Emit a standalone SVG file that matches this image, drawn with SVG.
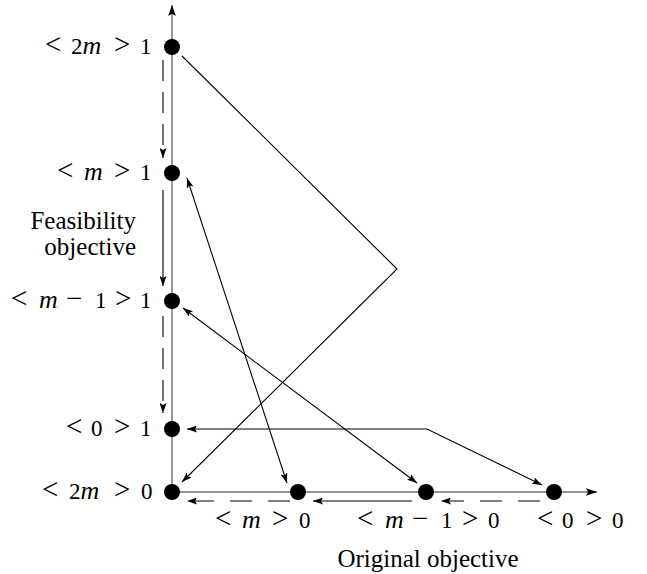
<svg xmlns="http://www.w3.org/2000/svg" width="647" height="574" viewBox="0 0 647 574">
<defs>
<marker id="ah" viewBox="0 0 10 7" refX="10" refY="3.5" markerWidth="10" markerHeight="7" markerUnits="userSpaceOnUse" orient="auto-start-reverse">
<path d="M0,0 L10,3.5 L0,7 L2,3.5 z" fill="#000"/>
</marker>
<marker id="ax" viewBox="0 0 10 7" refX="10" refY="3.5" markerWidth="11" markerHeight="8" markerUnits="userSpaceOnUse" orient="auto">
<path d="M0,0 L10,3.5 L0,7 L2,3.5 z" fill="#000"/>
</marker>
</defs>
<style>
.axis{stroke:#6e6e6e;stroke-width:1.4;fill:none}
.c{stroke:#000;stroke-width:1.1;fill:none}
.d{stroke:#000;stroke-width:1.1;fill:none;stroke-dasharray:21 11}
.dh{stroke:#000;stroke-width:1.1;fill:none;stroke-dasharray:22 16}
.n{fill:#000}
text{font-family:"Liberation Serif","Times New Roman",serif;fill:#000}
.math{font-size:23px}
.r{font-size:29px}
.txt{font-size:25px}
.m{font-style:italic;font-size:26px}
</style>
<g id="axes">
<line class="axis" x1="172" y1="492" x2="172" y2="5" marker-end="url(#ax)"/>
<line class="axis" x1="172" y1="492" x2="597" y2="492" marker-end="url(#ax)"/>
</g>
<g id="connectors">
<line class="d" x1="163" y1="60" x2="163" y2="158" marker-end="url(#ah)"/>
<line class="c" x1="163" y1="190" x2="163" y2="286" marker-end="url(#ah)"/>
<line class="d" x1="163" y1="316" x2="163" y2="413" marker-end="url(#ah)"/>
<line class="dh" x1="290" y1="501" x2="187" y2="501" marker-end="url(#ah)"/>
<line class="c" x1="412" y1="501" x2="313" y2="501" marker-end="url(#ah)"/>
<line class="dh" x1="540" y1="501" x2="441" y2="501" marker-end="url(#ah)"/>
<polyline class="c" points="182,56 397,269 182,482" marker-end="url(#ah)"/>
<line class="c" x1="187" y1="178" x2="287" y2="483" marker-start="url(#ah)" marker-end="url(#ah)"/>
<line class="c" x1="183" y1="308" x2="417" y2="483" marker-start="url(#ah)" marker-end="url(#ah)"/>
<polyline class="c" points="187,429 427,429 542,485" marker-start="url(#ah)" marker-end="url(#ah)"/>
</g>
<g id="n2m1"><circle class="n" cx="172" cy="47" r="8"/><text class="math" y="54"><tspan class="r" x="45">&lt;</tspan><tspan x="71">2<tspan class="m">m</tspan></tspan><tspan class="r" x="114">&gt;</tspan><tspan x="140">1</tspan></text></g>
<g id="nm1"><circle class="n" cx="172" cy="173" r="8"/><text class="math" y="180"><tspan class="r" x="57">&lt;</tspan><tspan class="m" x="84">m</tspan><tspan class="r" x="114">&gt;</tspan><tspan x="140">1</tspan></text></g>
<g id="nmm11"><circle class="n" cx="172" cy="301" r="8"/><text class="math" y="308"><tspan class="r" x="11">&lt;</tspan><tspan class="m" x="39">m</tspan><tspan class="r" x="66">−</tspan><tspan x="95">1</tspan><tspan class="r" x="115">&gt;</tspan><tspan x="140">1</tspan></text></g>
<g id="n01"><circle class="n" cx="172" cy="429" r="8"/><text class="math" y="436"><tspan class="r" x="66">&lt;</tspan><tspan x="91">0</tspan><tspan class="r" x="114">&gt;</tspan><tspan x="140">1</tspan></text></g>
<g id="n2m0"><circle class="n" cx="172" cy="492" r="8"/><text class="math" y="499"><tspan class="r" x="42">&lt;</tspan><tspan x="69">2<tspan class="m">m</tspan></tspan><tspan class="r" x="114">&gt;</tspan><tspan x="141">0</tspan></text></g>
<g id="nm0"><circle class="n" cx="298" cy="492" r="8"/><text class="math" y="528"><tspan class="r" x="215">&lt;</tspan><tspan class="m" x="242">m</tspan><tspan class="r" x="272">&gt;</tspan><tspan x="299">0</tspan></text></g>
<g id="nmm10"><circle class="n" cx="426" cy="492" r="8"/><text class="math" y="528"><tspan class="r" x="357">&lt;</tspan><tspan class="m" x="385">m</tspan><tspan class="r" x="412">−</tspan><tspan x="441">1</tspan><tspan class="r" x="462">&gt;</tspan><tspan x="488">0</tspan></text></g>
<g id="n00"><circle class="n" cx="554" cy="492" r="8"/><text class="math" y="528"><tspan class="r" x="537">&lt;</tspan><tspan x="562">0</tspan><tspan class="r" x="586">&gt;</tspan><tspan x="612">0</tspan></text></g>
<g id="axis-labels">
<text class="txt" x="136" y="229" text-anchor="end">Feasibility</text>
<text class="txt" x="136" y="255" text-anchor="end">objective</text>
<text class="txt" x="428" y="567" text-anchor="middle">Original objective</text>
</g>
</svg>
